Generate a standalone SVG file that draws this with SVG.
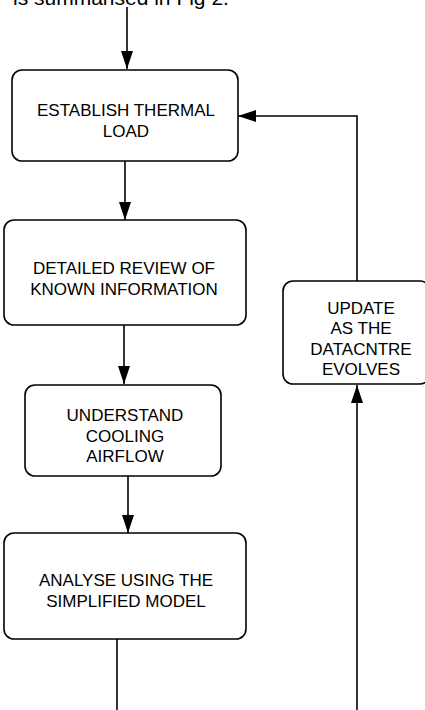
<svg xmlns="http://www.w3.org/2000/svg" width="425" height="710" viewBox="0 0 425 710">
<style>
.box{fill:#fff;stroke:#000;stroke-width:1.6}
.t{font-family:"Liberation Sans",Arial,sans-serif;font-size:17px;fill:#000;text-anchor:middle}
.c{fill:none;stroke:#000;stroke-width:1.6}
</style>
<defs>
<marker id="ah" markerUnits="userSpaceOnUse" markerWidth="18" markerHeight="12" refX="18" refY="6" orient="auto">
<path d="M0,0 L18,6 L0,12 Z" fill="#000"/>
</marker>
</defs>
<text x="13" y="5" font-family="Liberation Sans, Arial, sans-serif" font-size="21" fill="#000">is summarised in Fig 2.</text>
<g id="connectors">
<line class="c" x1="127" y1="7" x2="127" y2="69" marker-end="url(#ah)"/>
<line class="c" x1="125" y1="161" x2="125" y2="220" marker-end="url(#ah)"/>
<line class="c" x1="124" y1="325" x2="124" y2="384" marker-end="url(#ah)"/>
<line class="c" x1="128" y1="476" x2="128" y2="533" marker-end="url(#ah)"/>
<line class="c" x1="117" y1="639" x2="117" y2="712"/>
<line class="c" x1="357" y1="712" x2="357" y2="385" marker-end="url(#ah)"/>
<polyline class="c" points="357,281 357,116 238,116" marker-end="url(#ah)"/>
</g>
<g id="n1">
<rect class="box" x="12" y="70" width="226" height="91" rx="10"/>
<text class="t" x="126" y="116">ESTABLISH THERMAL</text>
<text class="t" x="126" y="136.5">LOAD</text>
</g>
<g id="n2">
<rect class="box" x="4" y="220" width="242" height="105" rx="10"/>
<text class="t" x="124" y="274">DETAILED REVIEW OF</text>
<text class="t" x="124" y="295">KNOWN INFORMATION</text>
</g>
<g id="n3">
<rect class="box" x="25" y="385" width="196" height="91" rx="10"/>
<text class="t" x="125" y="421">UNDERSTAND</text>
<text class="t" x="125" y="442">COOLING</text>
<text class="t" x="125" y="462">AIRFLOW</text>
</g>
<g id="n4">
<rect class="box" x="4" y="533" width="242" height="106" rx="10"/>
<text class="t" x="126" y="586">ANALYSE USING THE</text>
<text class="t" x="126" y="607">SIMPLIFIED MODEL</text>
</g>
<g id="n5">
<rect class="box" x="283" y="281" width="147" height="103" rx="10"/>
<text class="t" x="361" y="314">UPDATE</text>
<text class="t" x="361" y="334">AS THE</text>
<text class="t" x="361" y="355">DATACNTRE</text>
<text class="t" x="361" y="375">EVOLVES</text>
</g>
</svg>
